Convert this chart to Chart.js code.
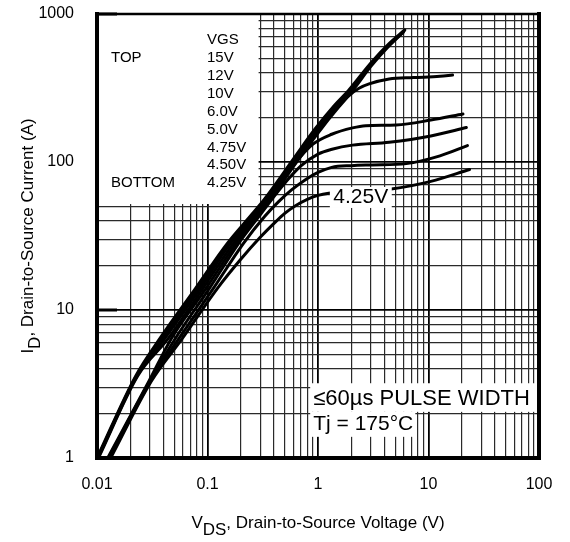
<!DOCTYPE html>
<html>
<head>
<meta charset="utf-8">
<script src="https://cdn.jsdelivr.net/npm/chart.js@4/dist/chart.umd.min.js"></script>
<style>
html,body{margin:0;padding:0;background:#fff;}
canvas{display:block;}
</style>
</head>
<body>
<canvas id="c" width="570" height="542" style="width:570px;height:542px"></canvas>
<script>
// ---- axis ticks ----
const xMajor = [0.01, 0.1, 1, 10, 100];
const xTickLabels = ['0.01', '0.1', '1', '10', '100'];
const yMajor = [1, 10, 100, 1000];
const yTickLabels = ['1', '10', '100', '1000'];
const minorSteps = [2, 3, 4, 5, 6, 7, 8, 9];

// ---- series (VGS curves) ----
const vgsNames = ['15V', '12V', '10V', '6.0V', '5.0V', '4.75V', '4.50V', '4.25V'];

const vds_15 = [0.0100, 0.0225, 0.037, 0.078, 0.15, 0.25, 0.333, 0.60, 0.94, 1.40, 1.88, 3.05, 4.4, 6.1];
const id_15  = [1.0, 3.6, 6.4, 14, 28, 44, 57, 105, 167, 240, 303, 472, 630, 780];
const vds_12 = [0.0101, 0.0228, 0.039, 0.082, 0.155, 0.26, 0.345, 0.61, 0.95, 1.42, 1.92, 3.05, 4.4, 6.0];
const id_12  = [1.0, 3.6, 6.4, 14, 28, 44, 57, 104, 164, 236, 298, 462, 615, 765];
const vds_10 = [0.0102, 0.0231, 0.041, 0.086, 0.16, 0.27, 0.355, 0.62, 0.97, 1.46, 1.97, 3.05, 4.3, 5.9];
const id_10  = [1.0, 3.6, 6.4, 14, 28, 44, 56, 102, 160, 230, 292, 448, 598, 750];
const vds_6  = [0.0103, 0.0234, 0.044, 0.091, 0.17, 0.28, 0.37, 0.64, 1.0, 1.52, 1.90, 2.35, 2.9, 4.4, 7.3, 12.7, 16.5];
const id_6   = [1.0, 3.6, 6.4, 14, 28, 44, 56, 100, 157, 232, 280, 315, 337, 364, 372, 379, 387];
const vds_5  = [0.0125, 0.0295, 0.047, 0.097, 0.18, 0.29, 0.40, 0.62, 0.90, 1.33, 2.05, 2.7, 5.1, 10.5, 20.5];
const id_5   = [1.0, 3.3, 6.4, 14, 28, 44, 62, 98, 132, 154, 170, 176, 178, 192, 211];
const vds_475 = [0.0127, 0.0300, 0.051, 0.104, 0.19, 0.30, 0.47, 0.70, 1.0, 1.34, 2.05, 4.4, 10.5, 22];
const id_475  = [1.0, 3.3, 6.4, 14, 28, 44, 68, 94, 113, 122, 130, 136, 150, 171];
const vds_450 = [0.0130, 0.0305, 0.055, 0.113, 0.21, 0.33, 0.44, 0.58, 0.77, 1.0, 1.33, 2.0, 3.1, 6.3, 12.7, 22.5];
const id_450  = [1.0, 3.3, 6.4, 14, 28, 43, 54, 65, 76, 85, 92, 94.5, 95.5, 97.5, 110, 129];
const vds_425 = [0.0133, 0.031, 0.059, 0.123, 0.20, 0.30, 0.40, 0.50, 0.62, 0.80, 1.0, 1.25, 2.6, 4.6, 10.5, 23.5];
const id_425  = [1.0, 3.3, 6.4, 14, 22, 31, 38.5, 45, 50.5, 56, 59.5, 61.5, 64, 65.7, 74, 89];

const seriesX = [vds_15, vds_12, vds_10, vds_6, vds_5, vds_475, vds_450, vds_425];
const seriesY = [id_15, id_12, id_10, id_6, id_5, id_475, id_450, id_425];

function logGrid(majors) {
  const out = [];
  majors.forEach((m, i) => {
    out.push(m);
    if (i < majors.length - 1) minorSteps.forEach(k => out.push(+(m * k).toPrecision(6)));
  });
  return out;
}
function isMajor(v) { const l = Math.log10(v); return Math.abs(l - Math.round(l)) < 1e-9; }
function majorLabel(v, majors, labels) {
  for (let i = 0; i < majors.length; i++) if (Math.abs(v / majors[i] - 1) < 1e-9) return labels[i];
  return '';
}

const FONT = '"Liberation Sans", Arial, Helvetica, sans-serif';

const datasets = vgsNames.map((n, i) => ({
  label: n,
  data: seriesX[i].map((xv, j) => ({ x: xv, y: seriesY[i][j] })),
  borderColor: '#000',
  borderWidth: 3,
  pointRadius: 0,
  fill: false,
  cubicInterpolationMode: 'monotone',
  borderCapStyle: 'round',
  borderJoinStyle: 'round'
}));

const annot = {
  id: 'annot',
  beforeDatasetsDraw(chart) {
    const { ctx, chartArea: a, scales: { x, y } } = chart;
    ctx.save();
    ctx.fillStyle = '#fff';
    // legend panel
    const bx = x.getPixelForValue(0.29), by = y.getPixelForValue(52);
    ctx.fillRect(a.left, a.top, bx - a.left, by - a.top);
    // pulse width panel
    const px0 = x.getPixelForValue(0.85), px1 = x.getPixelForValue(7.6);
    const py0 = y.getPixelForValue(3.2), py1 = y.getPixelForValue(2.05), py2 = y.getPixelForValue(1.39);
    ctx.fillRect(px0, py0, a.right - px0, py1 - py0);
    ctx.fillRect(px0, py1, px1 - px0, py2 - py1);

    ctx.fillStyle = '#000';
    ctx.textBaseline = 'middle';
    ctx.textAlign = 'left';
    ctx.font = '15px ' + FONT;
    ctx.fillText('TOP', a.left + 14, a.top + 44);
    ctx.fillText('BOTTOM', a.left + 14, a.top + 169);
    ctx.fillText('VGS', a.left + 110, a.top + 26);
    vgsNames.forEach((n, i) => ctx.fillText(n, a.left + 110, a.top + 26 + 17.9 * (i + 1)));

    ctx.font = '22px ' + FONT;
    ctx.fillText('\u226460\u00b5s PULSE WIDTH', px0 + 3, (py0 + py1) / 2 + 1);
    ctx.font = '21px ' + FONT;
    ctx.fillText('Tj = 175\u00b0C', px0 + 3, (py1 + py2) / 2);
    ctx.restore();
  },
  afterDatasetsDraw(chart) {
    const { ctx, chartArea: a, scales: { x, y } } = chart;
    ctx.save();
    // 4.25V curve label
    const lx0 = x.getPixelForValue(1.28), lx1 = x.getPixelForValue(4.65);
    const ly0 = y.getPixelForValue(67.8), ly1 = y.getPixelForValue(48.9);
    ctx.fillStyle = '#fff';
    ctx.fillRect(lx0, ly0, lx1 - lx0, ly1 - ly0);
    ctx.fillStyle = '#000';
    ctx.font = '21px ' + FONT;
    ctx.textBaseline = 'middle';
    ctx.textAlign = 'center';
    ctx.fillText('4.25V', (lx0 + lx1) / 2, y.getPixelForValue(58));

    // frame
    ctx.strokeStyle = '#000';
    ctx.lineCap = 'square';
    ctx.lineWidth = 4;
    ctx.beginPath();
    ctx.moveTo(a.left, a.top); ctx.lineTo(a.left, a.bottom); ctx.lineTo(a.right, a.bottom); ctx.lineTo(a.right, a.top);
    ctx.stroke();
    ctx.lineWidth = 2.5;
    ctx.beginPath(); ctx.moveTo(a.left, a.top); ctx.lineTo(a.right, a.top); ctx.stroke();
    // short heavy stubs
    ctx.lineWidth = 3;
    ctx.lineCap = 'butt';
    [10, 1000].forEach(v => {
      const yy = y.getPixelForValue(v);
      ctx.beginPath(); ctx.moveTo(a.left, yy); ctx.lineTo(a.left + 20, yy); ctx.stroke();
    });
    ctx.restore();
  },
  afterDraw(chart) {
    const { ctx, chartArea: a } = chart;
    ctx.save();
    ctx.fillStyle = '#000';
    ctx.textBaseline = 'alphabetic';
    ctx.textAlign = 'left';
    const main = '17px ' + FONT, sub = '17px ' + FONT;
    // X title
    ctx.font = main;
    const wV = ctx.measureText('V').width;
    const wRest = ctx.measureText(', Drain-to-Source Voltage (V)').width;
    ctx.font = sub;
    const wDS = ctx.measureText('DS').width;
    let tx = (a.left + a.right) / 2 - (wV + wDS + wRest) / 2;
    const tyB = 528;
    ctx.font = main; ctx.fillText('V', tx, tyB); tx += wV;
    ctx.font = sub; ctx.fillText('DS', tx, tyB + 7); tx += wDS;
    ctx.font = main; ctx.fillText(', Drain-to-Source Voltage (V)', tx, tyB);

    // Y title
    ctx.translate(33, 236);
    ctx.rotate(-Math.PI / 2);
    ctx.font = main;
    const wI = ctx.measureText('I').width;
    const wR2 = ctx.measureText(', Drain-to-Source Current (A)').width;
    ctx.font = sub;
    const wD = ctx.measureText('D').width;
    let ux = -(wI + wD + wR2) / 2;
    ctx.font = main; ctx.fillText('I', ux, 0); ux += wI;
    ctx.font = sub; ctx.fillText('D', ux, 7); ux += wD;
    ctx.font = main; ctx.fillText(', Drain-to-Source Current (A)', ux, 0);
    ctx.restore();
  }
};

function gridColor(c) { return (c.tick && isMajor(c.tick.value)) ? '#000' : '#2a2a2a'; }
function gridWidth(c) { return (c.tick && isMajor(c.tick.value)) ? 1.8 : 1.2; }
function zeroPad(s) { s.paddingTop = 0; s.paddingBottom = 0; s.paddingLeft = 0; s.paddingRight = 0; }

new Chart(document.getElementById('c').getContext('2d'), {
  type: 'line',
  data: { datasets },
  options: {
    responsive: false,
    animation: false,
    events: [],
    layout: { padding: { left: 0, top: 14, right: 31, bottom: 0 } },
    scales: {
      x: {
        type: 'logarithmic',
        min: 0.01, max: 100,
        afterBuildTicks: s => { s.ticks = logGrid(xMajor).map(v => ({ value: v, major: isMajor(v) })); },
        afterFit: s => { s.height = 84; zeroPad(s); },
        ticks: {
          autoSkip: false, maxRotation: 0, minRotation: 0, padding: 17,
          color: '#000', font: { family: FONT, size: 16 },
          callback: v => majorLabel(v, xMajor, xTickLabels)
        },
        grid: { color: gridColor, lineWidth: gridWidth, drawTicks: false },
        border: { display: false }
      },
      y: {
        type: 'logarithmic',
        min: 1, max: 1000,
        afterBuildTicks: s => { s.ticks = logGrid(yMajor).map(v => ({ value: v, major: isMajor(v) })); },
        afterFit: s => { s.width = 97; zeroPad(s); },
        ticks: {
          autoSkip: false, padding: 23,
          color: '#000', font: { family: FONT, size: 16 },
          callback: v => majorLabel(v, yMajor, yTickLabels)
        },
        grid: { color: gridColor, lineWidth: gridWidth, drawTicks: false },
        border: { display: false }
      }
    },
    plugins: { legend: { display: false }, tooltip: { enabled: false } }
  },
  plugins: [annot]
});
</script>
</body>
</html>
